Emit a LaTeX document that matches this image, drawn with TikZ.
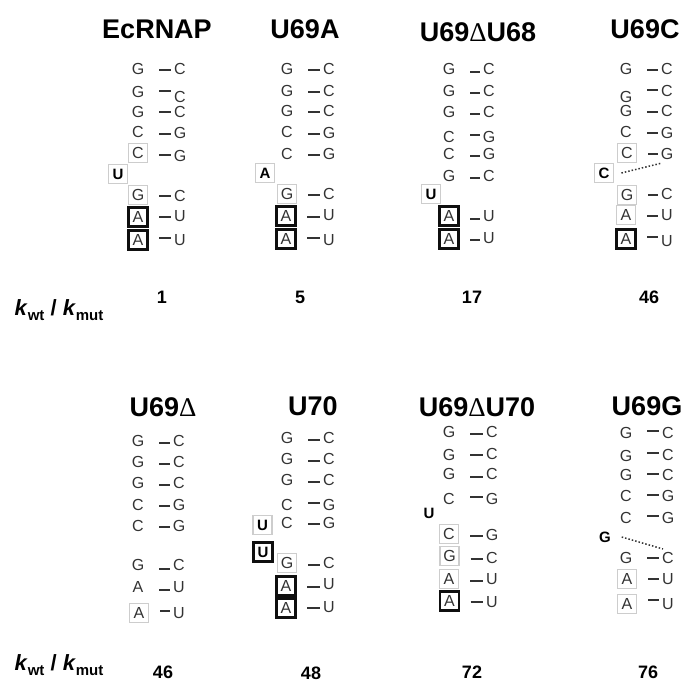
\documentclass[tikz,border=0pt]{standalone}
\usepackage{fontspec}
\setmainfont{Liberation Sans}
\newfontfamily\deltafont{Liberation Serif}
\usepackage{xcolor}
\usetikzlibrary{calc}
\definecolor{ink}{RGB}{51,51,51}
\definecolor{boxgray}{RGB}{205,205,205}
\definecolor{boxdark}{RGB}{15,15,15}
% id, left x, left y, left letter, right x, right y, right letter, bond y
\newcommand{\basepair}[9][plainbase]{%
  \node[#1] (#2l) at (#3,#4) {#5};
  \node[plainbase] (#2r) at (#6,#7) {#8};
  \coordinate (#2d) at (#3,#9);
  \draw[bond] (#2l.center |- #2d) -- (#2r.center |- #2d);
}
\newcommand{\kratio}{\textbf{\textit{k}}\raisebox{-5pt}{\fontsize{15}{15}\selectfont\textbf{wt}}\textbf{ / }\textbf{\textit{k}}\raisebox{-5pt}{\fontsize{15}{15}\selectfont\textbf{mut}}}

\begin{document}
\begin{tikzpicture}[
    x=1pt, y=-1pt,
    title/.style={font=\fontsize{27}{30}\selectfont\bfseries, text=black, inner sep=0},
    value/.style={font=\fontsize{18}{20}\selectfont\bfseries, text=black, inner sep=0},
    ratio/.style={font=\fontsize{22}{24}\selectfont, text=black, inner sep=0},
    plainbase/.style={inner sep=0, minimum width=13pt, minimum height=13pt, text height=11.5pt, text depth=0pt, font=\fontsize{16}{16}\selectfont, text=ink},
    graybase/.style={plainbase, draw=boxgray, line width=1.8pt, minimum width=19pt, minimum height=19pt},
    blackbase/.style={plainbase, draw=boxdark, line width=2.5pt, minimum width=19pt, minimum height=19pt},
    bulge/.style={plainbase, font=\fontsize{15}{15}\selectfont\bfseries, text=black},
    graybulge/.style={graybase, font=\fontsize{15}{15}\selectfont\bfseries, text=black},
    blackbulge/.style={blackbase, font=\fontsize{15}{15}\selectfont\bfseries, text=black},
    bond/.style={line width=1.1pt, ink, shorten <=21pt, shorten >=9pt},
    mismatch/.style={line width=1.5pt, ink, dotted},
]
\useasboundingbox (0,0) rectangle (684,680);

\node[title] (ecrnap) at (157,29) {EcRNAP};
\basepair{a1}{138}{69}{G}{180}{69}{C}{70}
\basepair{a2}{138}{92}{G}{180}{97}{C}{91}
\basepair{a3}{138}{112}{G}{180}{112}{C}{112}
\basepair{a4}{138}{132}{C}{180}{133}{G}{134}
\basepair[graybase]{a5}{138}{153}{C}{180}{156}{G}{155}
\basepair[graybase]{a6}{138}{195}{G}{180}{196}{C}{196}
\basepair[blackbase]{a7}{138}{217}{A}{180}{216}{U}{217}
\basepair[blackbase]{a8}{138}{240}{A}{180}{240}{U}{238}
\node[graybulge] (abulge) at (118,174) {U};
\node[value] (aval) at (162,297) {1};

\node[title] (u69a) at (305,29) {U69A};
\basepair{b1}{287}{69}{G}{329}{69}{C}{70}
\basepair{b2}{287}{91}{G}{329}{91}{C}{92}
\basepair{b3}{287}{111}{G}{329}{111}{C}{112}
\basepair{b4}{287}{132}{C}{329}{133}{G}{134}
\basepair{b5}{287}{154}{C}{329}{154}{G}{155}
\basepair[graybase]{b6}{287}{194}{G}{329}{194}{C}{195}
\basepair[blackbase]{b7}{286}{216}{A}{329}{215}{U}{217}
\basepair[blackbase]{b8}{286}{239}{A}{329}{240}{U}{238}
\node[graybulge] (bbulge) at (265,173) {A};
\node[value] (bval) at (300,297) {5};

\node[title] (u69du68) at (478,32) {U69{\deltafont\mdseries Δ}U68};
\basepair{c1}{449}{69}{G}{489}{69}{C}{72}
\basepair{c2}{449}{91}{G}{489}{91}{C}{93}
\basepair{c3}{449}{112}{G}{489}{112}{C}{114}
\basepair{c4}{449}{137}{C}{489}{137}{G}{135}
\basepair{c5}{449}{154}{C}{489}{154}{G}{156}
\basepair{c6}{449}{176}{G}{489}{176}{C}{178}
\basepair[blackbase]{c7}{449}{216}{A}{489}{216}{U}{219}
\basepair[blackbase]{c8}{449}{239}{A}{489}{238}{U}{240}
\node[graybulge] (cbulge) at (431,194) {U};
\node[value] (cval) at (472,297) {17};

\node[title] (u69c) at (645,29) {U69C};
\basepair{d1}{626}{69}{G}{667}{69}{C}{70}
\basepair{d2}{626}{97}{G}{667}{91}{C}{90}
\basepair{d3}{626}{111}{G}{667}{111}{C}{112}
\basepair{d4}{626}{132}{C}{667}{133}{G}{133}
\basepair[graybase]{d5}{627}{153}{C}{667}{154}{G}{154}
\basepair[graybase]{d6}{627}{195}{G}{667}{194}{C}{195}
\basepair[graybase]{d7}{626}{215}{A}{667}{215}{U}{216}
\basepair[blackbase]{d8}{626}{239}{A}{667}{241}{U}{237}
\node[graybulge] (dbulge) at (604,173) {C};
\coordinate (dend) at (662,163);
\draw[mismatch] ([xshift=7pt]dbulge.east) -- (dend);
\node[value] (dval) at (649,297) {46};

\node[ratio] (ratiotop) at (59,310) {\kratio};

\node[title] (u69d) at (163,407) {U69{\deltafont\mdseries Δ}};
\basepair{e1}{138}{441}{G}{179}{441}{C}{443}
\basepair{e2}{138}{462}{G}{179}{462}{C}{464}
\basepair{e3}{138}{483}{G}{179}{483}{C}{485}
\basepair{e4}{138}{505}{C}{179}{505}{G}{506}
\basepair{e5}{138}{526}{C}{179}{526}{G}{527}
\basepair{e6}{138}{565}{G}{179}{565}{C}{569}
\basepair{e7}{138}{587}{A}{179}{587}{U}{590}
\basepair[graybase]{e8}{139}{613}{A}{179}{613}{U}{611}
\node[value] (eval) at (163,672) {46};

\node[title] (u70) at (313,406) {U70};
\basepair{f1}{287}{438}{G}{329}{438}{C}{440}
\basepair{f2}{287}{459}{G}{329}{459}{C}{461}
\basepair{f3}{287}{480}{G}{329}{480}{C}{482}
\basepair{f4}{287}{505}{C}{329}{505}{G}{503}
\basepair{f5}{287}{523}{C}{329}{523}{G}{524}
\basepair[graybase]{f6}{287}{563}{G}{329}{563}{C}{565}
\basepair[blackbase]{f7}{286}{586}{A}{329}{584}{U}{587}
\basepair[blackbase]{f8}{286}{608}{A}{329}{607}{U}{608}
\node[graybulge] (fbulgea) at (262.5,525) {U};
\node[blackbulge] (fbulgeb) at (263,552) {U};
\node[value] (fval) at (311,673) {48};

\node[title] (u69du70) at (477,407) {U69{\deltafont\mdseries Δ}U70};
\basepair{g1}{449}{432}{G}{492}{432}{C}{434}
\basepair{g2}{449}{455}{G}{492}{454}{C}{455}
\basepair{g3}{449}{474}{G}{492}{474}{C}{477}
\basepair{g4}{449}{499}{C}{492}{499}{G}{497}
\basepair[graybase]{g5}{449}{534}{C}{492}{535}{G}{536}
\basepair[graybase]{g6}{449.5}{556}{G}{492}{558}{C}{559}
\basepair[graybase]{g7}{449}{579}{A}{492}{579}{U}{581}
\basepair[blackbase]{g8}{449.5}{601}{A}{492}{602}{U}{602}
\node[bulge] (gbulge) at (429,513) {U};
\node[value] (gval) at (472,672) {72};

\node[title] (u69g) at (647,406) {U69G};
\basepair{h1}{626}{433}{G}{668}{433}{C}{431}
\basepair{h2}{626}{456}{G}{668}{455}{C}{453}
\basepair{h3}{626}{475}{G}{668}{475}{C}{474}
\basepair{h4}{626}{496}{C}{668}{496}{G}{495}
\basepair{h5}{626}{518}{C}{668}{518}{G}{516}
\basepair{h6}{626}{558}{G}{668}{558}{C}{558}
\basepair[graybase]{h7}{627}{579}{A}{668}{579}{U}{579}
\basepair[graybase]{h8}{627}{604}{A}{668}{604}{U}{600}
\node[bulge] (hbulge) at (605,537) {G};
\coordinate (hend) at (663,549);
\draw[mismatch] ([xshift=10pt]hbulge.east) -- (hend);
\node[value] (hval) at (648,672) {76};

\node[ratio] (ratiobot) at (59,665) {\kratio};

\end{tikzpicture}
\end{document}
